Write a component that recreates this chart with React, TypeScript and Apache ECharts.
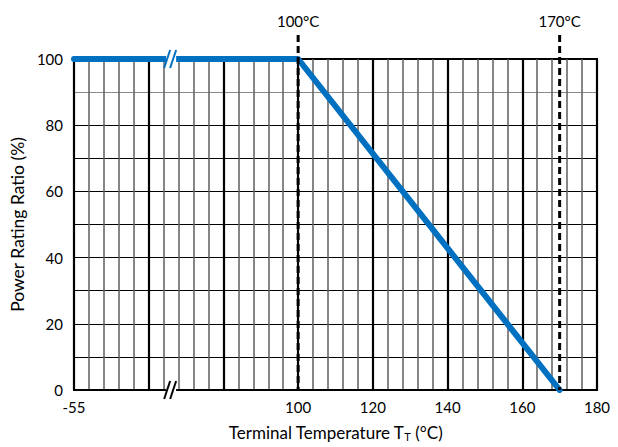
import React, { useEffect, useRef } from "react";
import * as echarts from "echarts";

const curveX = [40, 100, 170];
const curveY = [100, 100, 0];
const xTickLabels: Record<number, string> = { 40: "-55", 60: "", 80: "", 100: "100", 120: "120", 140: "140", 160: "160", 180: "180" };
const yTicks = [0, 20, 40, 60, 80, 100];
const refLines = [100, 170];
const refLabels = ["100°C", "170°C"];
const breakAtX = 66;
const breakAtY = [100, 0];
const breakColors = ["#0070C0", "#000000"];

const FONT = "Lato, 'Open Sans', sans-serif";

export default function App() {
  const ref = useRef<HTMLDivElement>(null);
  useEffect(() => {
    if (!ref.current) return;
    const chart = echarts.init(ref.current, undefined, { renderer: "svg" });
    const hColors: string[] = [];
    for (let v = 0; v <= 100; v += 10) hColors.push(v === 90 ? "#8a8a8a" : "#000000");
    chart.setOption({
      animation: false,
      backgroundColor: "#ffffff",
      grid: { left: 72, right: 21, top: 59, bottom: 50, show: true, borderColor: "#000", borderWidth: 2, backgroundColor: "transparent" },
      xAxis: [
        {
          type: "value", min: 40, max: 180, interval: 4, position: "bottom",
          axisLine: { show: false }, axisTick: { show: false }, axisLabel: { show: false },
          splitLine: { show: true, lineStyle: { color: "#5e5e5e", width: 1.5 } },
        },
        {
          type: "value", min: 40, max: 180, interval: 20, position: "bottom",
          axisLine: { show: true, lineStyle: { color: "#000", width: 2 } },
          axisTick: { show: false },
          axisLabel: { color: "#000", fontSize: 15, fontFamily: FONT, margin: 9, formatter: (v: number) => xTickLabels[v] ?? "" },
          splitLine: { show: true, lineStyle: { color: "#000", width: 2.2 } },
          name: "{a|Terminal Temperature T}{s|T}{a| (°C)}",
          nameLocation: "middle", nameGap: 32,
          nameTextStyle: {
            rich: {
              a: { fontSize: 17, fontFamily: FONT, color: "#000", lineHeight: 20 },
              s: { fontSize: 11, fontFamily: FONT, color: "#000", lineHeight: 20, padding: [9, 0, 0, 0] },
            },
          },
        },
      ],
      yAxis: {
        type: "value", min: 0, max: 100, interval: 10,
        axisLine: { show: true, lineStyle: { color: "#000", width: 2 } },
        axisTick: { show: false },
        axisLabel: { color: "#000", fontSize: 15, fontFamily: FONT, margin: 11, formatter: (v: number) => (yTicks.includes(v) ? String(v) : "") },
        splitLine: { show: true, lineStyle: { color: hColors, width: 1 } },
        name: "Power Rating Ratio (%)", nameLocation: "middle", nameGap: 39,
        nameTextStyle: { color: "#000", fontSize: 17.5, fontFamily: FONT },
      },
      series: [
        {
          type: "line", xAxisIndex: 1, data: curveX.map((x, i) => [x, curveY[i]]),
          symbol: "none", lineStyle: { color: "#0070C0", width: 6, cap: "round", join: "round" }, z: 3,
        },
        {
          type: "custom", xAxisIndex: 1, clip: false, z: 5,
          data: refLines.map((x, i) => [x, 0, i]),
          renderItem: (params: any, api: any) => {
            const x = api.value(0);
            const top = api.coord([x, 100]);
            const bot = api.coord([x, 0]);
            return {
              type: "group",
              children: [
                { type: "line", shape: { x1: top[0], y1: top[1] - 24, x2: bot[0], y2: bot[1] }, style: { stroke: "#000", lineWidth: 3, lineDash: [7, 4] } },
                { type: "text", style: { x: top[0], y: top[1] - 38, text: refLabels[api.value(2)], fill: "#000", fontSize: 15, fontFamily: FONT, align: "center", verticalAlign: "middle" } },
              ],
            };
          },
        },
        {
          type: "custom", xAxisIndex: 1, clip: false, z: 6,
          data: breakAtY.map((y, i) => [breakAtX, y, i]),
          renderItem: (params: any, api: any) => {
            const p = api.coord([api.value(0), api.value(1)]);
            const c = breakColors[api.value(2)];
            return {
              type: "group",
              children: [
                { type: "rect", shape: { x: p[0] - 5, y: p[1] - 5, width: 10, height: 10 }, style: { fill: "#fff" } },
                { type: "line", shape: { x1: p[0] - 7, y1: p[1] + 9, x2: p[0] - 1, y2: p[1] - 9 }, style: { stroke: c, lineWidth: 2 } },
                { type: "line", shape: { x1: p[0] - 1, y1: p[1] + 9, x2: p[0] + 5, y2: p[1] - 9 }, style: { stroke: c, lineWidth: 2 } },
              ],
            };
          },
        },
      ],
    });
    return () => chart.dispose();
  }, []);
  return <div ref={ref} style={{ width: 618, height: 447, position: "absolute", left: 0, top: 0 }} />;
}
